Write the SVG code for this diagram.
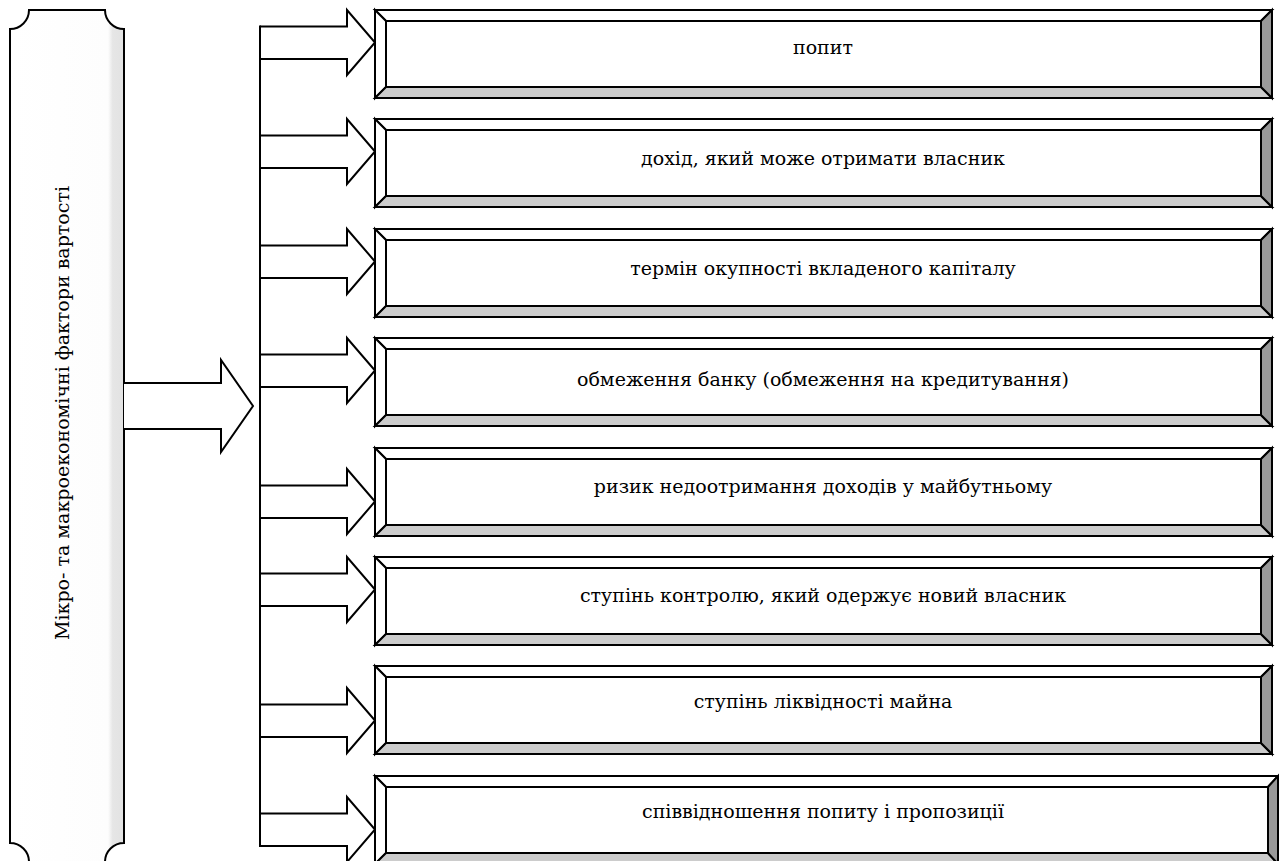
<svg xmlns="http://www.w3.org/2000/svg" width="1279" height="861" viewBox="0 0 1279 861">
  <style>
    .ln { fill: none; stroke: #000; stroke-width: 2; stroke-linejoin: miter; }
    .arrow { fill: #fff; stroke: #000; stroke-width: 2; stroke-linejoin: miter; }
    .bv { stroke: #000; stroke-width: 2; stroke-linejoin: miter; }
    .lt { fill: #fff; }
    .bt { fill: #cccccc; }
    .rt { fill: #999999; }
    .face { fill: #fff; stroke: #000; stroke-width: 2; }
    .label { font-family: "DejaVu Serif", "Liberation Serif", serif; font-size: 19px; fill: #000; text-anchor: middle; }
  </style>
  <defs>
    <linearGradient id="panelFill" x1="0" y1="0" x2="1" y2="0">
      <stop offset="0" stop-color="#ffffff"/>
      <stop offset="0.86" stop-color="#fdfdfd"/>
      <stop offset="0.9" stop-color="#e6e6e6"/>
      <stop offset="1" stop-color="#e2e2e2"/>
    </linearGradient>
  </defs>

  <!-- left panel with concave corners -->
  <g id="factors">
    <path d="M29,10 H105 A19,19 0 0 0 124,29 V843 A19,19 0 0 0 105,862 H29 A19,19 0 0 0 10,843 V29 A19,19 0 0 0 29,10 Z" fill="url(#panelFill)" stroke="#000" stroke-width="2"/>
    <text class="label" transform="translate(69,413) rotate(-90)" font-size="21">Мікро- та макроекономічні фактори вартості</text>
  </g>

  <!-- connectors: main arrow, branch arrows and distribution bus -->
  <g id="connectors">
    <path class="arrow" d="M124,383 H221 V360 L253,406 L221,452 V429 H124"/>
    <path class="arrow" d="M260,26.5 H347 V10 L375,42.5 L347,75 V59 H260"/>
    <path class="arrow" d="M260,135.5 H347 V119 L375,151.5 L347,184 V168 H260"/>
    <path class="arrow" d="M260,245.5 H347 V229 L375,261.5 L347,294 V278 H260"/>
    <path class="arrow" d="M260,354.5 H347 V338 L375,370.5 L347,403 V387 H260"/>
    <path class="arrow" d="M260,485.5 H347 V469 L375,501.5 L347,534 V518 H260"/>
    <path class="arrow" d="M260,573.5 H347 V557 L375,589.5 L347,622 V606 H260"/>
    <path class="arrow" d="M260,704.5 H347 V688 L375,720.5 L347,753 V737 H260"/>
    <path class="arrow" d="M260,813.5 H347 V797 L375,829.5 L347,862 V846 H260"/>
    <line class="ln" x1="260" y1="25.5" x2="260" y2="847"/>
  </g>

  <!-- bevelled boxes -->
  <g id="box1">
    <polygon class="bv lt" points="375,10 1272,10 1261,21 386,21"/>
    <polygon class="bv lt" points="375,10 386,21 386,87 375,98"/>
    <polygon class="bv bt" points="375,98 386,87 1261,87 1272,98"/>
    <polygon class="bv rt" points="1272,10 1272,98 1261,87 1261,21"/>
    <rect class="face" x="386" y="21" width="875" height="66"/>
    <text class="label" x="823" y="54">попит</text>
  </g>
  <g id="box2">
    <polygon class="bv lt" points="375,119 1272,119 1261,130 386,130"/>
    <polygon class="bv lt" points="375,119 386,130 386,196 375,207"/>
    <polygon class="bv bt" points="375,207 386,196 1261,196 1272,207"/>
    <polygon class="bv rt" points="1272,119 1272,207 1261,196 1261,130"/>
    <rect class="face" x="386" y="130" width="875" height="66"/>
    <text class="label" x="823" y="165">дохід, який може отримати власник</text>
  </g>
  <g id="box3">
    <polygon class="bv lt" points="375,229 1272,229 1261,240 386,240"/>
    <polygon class="bv lt" points="375,229 386,240 386,306 375,317"/>
    <polygon class="bv bt" points="375,317 386,306 1261,306 1272,317"/>
    <polygon class="bv rt" points="1272,229 1272,317 1261,306 1261,240"/>
    <rect class="face" x="386" y="240" width="875" height="66"/>
    <text class="label" x="823" y="275">термін окупності вкладеного капіталу</text>
  </g>
  <g id="box4">
    <polygon class="bv lt" points="375,338 1272,338 1261,349 386,349"/>
    <polygon class="bv lt" points="375,338 386,349 386,415 375,426"/>
    <polygon class="bv bt" points="375,426 386,415 1261,415 1272,426"/>
    <polygon class="bv rt" points="1272,338 1272,426 1261,415 1261,349"/>
    <rect class="face" x="386" y="349" width="875" height="66"/>
    <text class="label" x="823" y="386">обмеження банку (обмеження на кредитування)</text>
  </g>
  <g id="box5">
    <polygon class="bv lt" points="375,448 1272,448 1261,459 386,459"/>
    <polygon class="bv lt" points="375,448 386,459 386,525 375,536"/>
    <polygon class="bv bt" points="375,536 386,525 1261,525 1272,536"/>
    <polygon class="bv rt" points="1272,448 1272,536 1261,525 1261,459"/>
    <rect class="face" x="386" y="459" width="875" height="66"/>
    <text class="label" x="823" y="493">ризик недоотримання доходів у майбутньому</text>
  </g>
  <g id="box6">
    <polygon class="bv lt" points="375,557 1272,557 1261,568 386,568"/>
    <polygon class="bv lt" points="375,557 386,568 386,634 375,645"/>
    <polygon class="bv bt" points="375,645 386,634 1261,634 1272,645"/>
    <polygon class="bv rt" points="1272,557 1272,645 1261,634 1261,568"/>
    <rect class="face" x="386" y="568" width="875" height="66"/>
    <text class="label" x="823" y="602">ступінь контролю, який одержує новий власник</text>
  </g>
  <g id="box7">
    <polygon class="bv lt" points="375,666 1272,666 1261,677 386,677"/>
    <polygon class="bv lt" points="375,666 386,677 386,743 375,754"/>
    <polygon class="bv bt" points="375,754 386,743 1261,743 1272,754"/>
    <polygon class="bv rt" points="1272,666 1272,754 1261,743 1261,677"/>
    <rect class="face" x="386" y="677" width="875" height="66"/>
    <text class="label" x="823" y="708">ступінь ліквідності майна</text>
  </g>
  <g id="box8">
    <polygon class="bv lt" points="375,776 1278,776 1268,787 386,787"/>
    <polygon class="bv lt" points="375,776 386,787 386,853 375,864"/>
    <polygon class="bv bt" points="375,864 386,853 1268,853 1278,864"/>
    <polygon class="bv rt" points="1278,776 1278,864 1268,853 1268,787"/>
    <rect class="face" x="386" y="787" width="882" height="66"/>
    <text class="label" x="823" y="818">співвідношення попиту і пропозиції</text>
  </g>
</svg>
